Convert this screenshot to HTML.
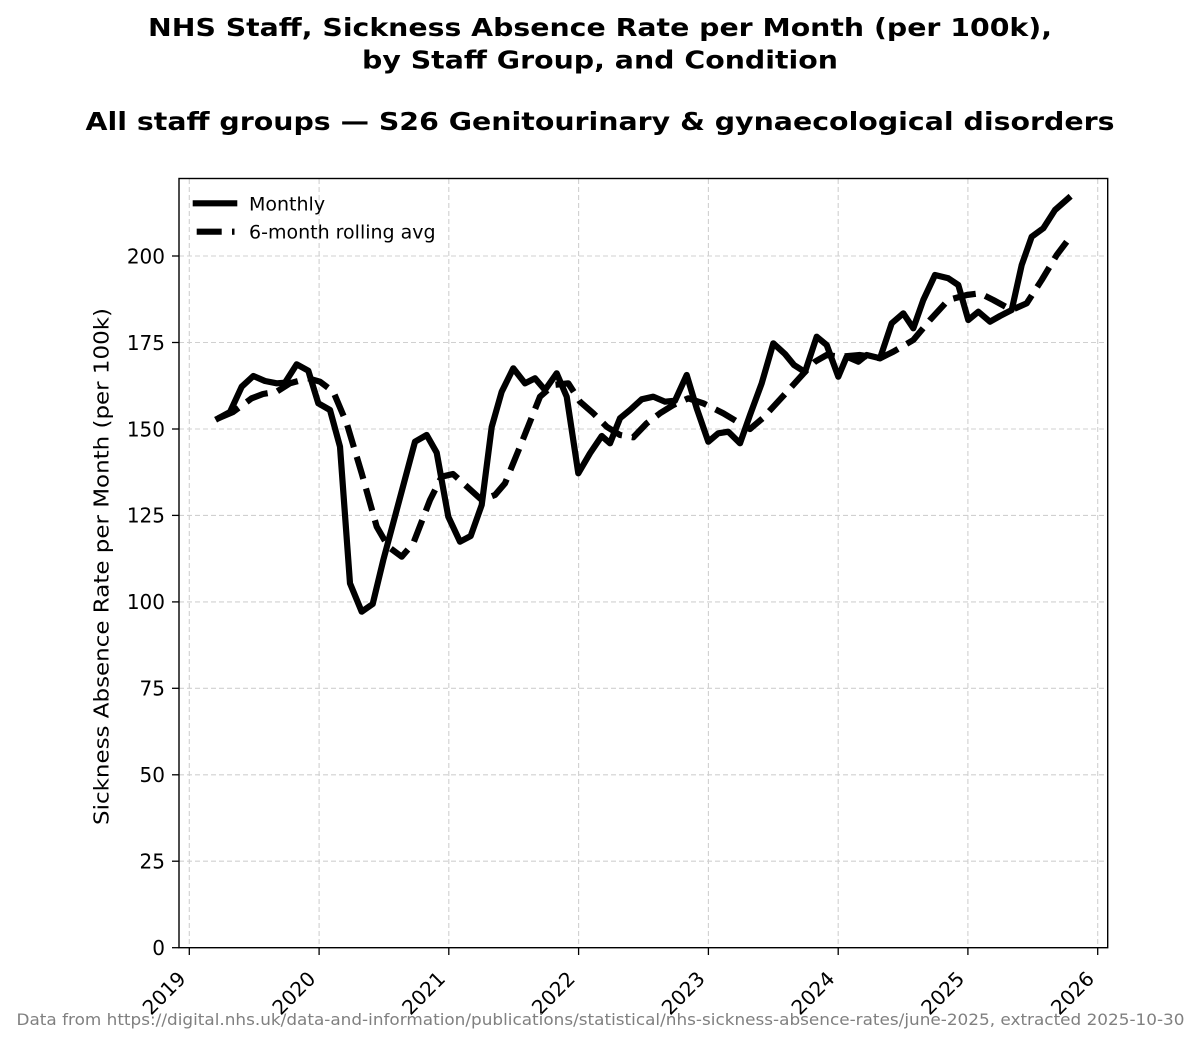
<!DOCTYPE html>
<html>
<head>
<meta charset="utf-8">
<style>
  html, body { margin: 0; padding: 0; background: #ffffff; }
  svg { display: block; }
  text { font-family: "DejaVu Sans", "Liberation Sans", sans-serif; }
</style>
</head>
<body>
<svg width="1200" height="1043" viewBox="0 0 1200 1043" xmlns="http://www.w3.org/2000/svg">
  <rect x="0" y="0" width="1200" height="1043" fill="#ffffff"/>

  <!-- Titles -->
  <text x="600" y="36" text-anchor="middle" font-size="25" font-weight="bold" fill="#000" textLength="904" lengthAdjust="spacingAndGlyphs">NHS Staff, Sickness Absence Rate per Month (per 100k),</text>
  <text x="600" y="68.5" text-anchor="middle" font-size="25" font-weight="bold" fill="#000" textLength="476" lengthAdjust="spacingAndGlyphs">by Staff Group, and Condition</text>
  <text x="600" y="130" text-anchor="middle" font-size="25" font-weight="bold" fill="#000" textLength="1029" lengthAdjust="spacingAndGlyphs">All staff groups — S26 Genitourinary &amp; gynaecological disorders</text>

  <!-- Grid -->
  <g stroke="#d0d0d0" stroke-width="1.1" stroke-dasharray="5,3" fill="none">
    <line x1="189.3" y1="179" x2="189.3" y2="947.7"/>
    <line x1="319.1" y1="179" x2="319.1" y2="947.7"/>
    <line x1="448.8" y1="179" x2="448.8" y2="947.7"/>
    <line x1="578.6" y1="179" x2="578.6" y2="947.7"/>
    <line x1="708.4" y1="179" x2="708.4" y2="947.7"/>
    <line x1="838.2" y1="179" x2="838.2" y2="947.7"/>
    <line x1="967.9" y1="179" x2="967.9" y2="947.7"/>
    <line x1="1097.7" y1="179" x2="1097.7" y2="947.7"/>
    <line x1="179" y1="861.2" x2="1107.7" y2="861.2"/>
    <line x1="179" y1="774.8" x2="1107.7" y2="774.8"/>
    <line x1="179" y1="688.3" x2="1107.7" y2="688.3"/>
    <line x1="179" y1="601.9" x2="1107.7" y2="601.9"/>
    <line x1="179" y1="515.4" x2="1107.7" y2="515.4"/>
    <line x1="179" y1="429.0" x2="1107.7" y2="429.0"/>
    <line x1="179" y1="342.5" x2="1107.7" y2="342.5"/>
    <line x1="179" y1="256.0" x2="1107.7" y2="256.0"/>
  </g>

  <!-- Monthly line -->
  <polyline fill="none" stroke="#000" stroke-width="6.2" stroke-linejoin="round" stroke-linecap="square"
    points="218.3,418.3 230,412 241.7,386.7 253.3,376 265,381 276.7,383.3 285,382.7 296.7,364.3 308.3,370.7 318.3,403.3 330,410 340,446.7 350,583.3 361.7,611.7 372.7,604 383.3,560 415,441.7 426.7,435 436.7,452.7 448.3,516.7 460,541.7 470.7,536 481.7,505 491.7,427 501.7,391.7 513.3,368.3 525,383.3 535,378.3 545,390 556.7,373.3 566.7,396.7 578.3,473.3 590,453.3 601.7,436 610,443.3 620,418.3 630,410 641.7,399.3 653.3,396.7 665,401.7 675,400.7 686.7,375 696.7,408.3 708.3,441.7 718.3,433.3 728.3,431.7 740,443.3 750,415 761.7,383.3 773.3,343.3 785,354 794,365 805,372 816.7,336.7 826.7,345 838.3,376.7 846.7,356.7 858.3,361.7 866.7,355 880,358.3 891.7,323.3 903.3,313.3 913.3,328.3 923.3,300 935,275 948.3,278.3 958.3,285 968.3,320 978.3,311.7 990,321.7 1000,316 1011.7,310 1021.7,265 1031.7,236.7 1043.3,228.3 1055,210 1068.3,198.3"/>

  <!-- Rolling avg line -->
  <polyline fill="none" stroke="#000" stroke-width="6.2" stroke-linejoin="round" stroke-dasharray="23,10"
    points="218.3,418.3 233,412 251.7,398.3 263,394 276.7,391.7 290,383.3 308.3,378.3 320,381.7 333.3,391.7 346.7,423.3 361.7,473.3 376.7,526.7 388.3,546.7 401.7,556.7 413.3,543.3 430,500 441.7,476.7 453,474 463.3,483.3 481.7,500 495,495 505,483.3 520,446.7 540,396.7 553.3,385 568.3,383.3 580,401.7 593.3,413.3 606.7,426.7 620,435 633.3,437.3 646.7,423.3 660,413.3 673.3,405 688.3,398.3 703.3,403.3 723.3,413.3 740,423.3 750,429 763,418 785,394 806.7,370 815,361.7 826.7,355 840,356.7 860,355 880,358.3 893.3,351.7 913.3,340 930,320 948.3,300 966.7,295 980,293.3 993.3,300 1011.7,310 1026.7,303.3 1041.7,280 1056.7,255 1066.7,241.7"/>

  <!-- Axes spines -->
  <rect x="179" y="178.5" width="928.7" height="769.2" fill="none" stroke="#000" stroke-width="1.4"/>

  <!-- Y ticks -->
  <g stroke="#000" stroke-width="1.3">
    <line x1="172" y1="947.7" x2="179" y2="947.7"/>
    <line x1="172" y1="861.2" x2="179" y2="861.2"/>
    <line x1="172" y1="774.8" x2="179" y2="774.8"/>
    <line x1="172" y1="688.3" x2="179" y2="688.3"/>
    <line x1="172" y1="601.9" x2="179" y2="601.9"/>
    <line x1="172" y1="515.4" x2="179" y2="515.4"/>
    <line x1="172" y1="429.0" x2="179" y2="429.0"/>
    <line x1="172" y1="342.5" x2="179" y2="342.5"/>
    <line x1="172" y1="256.0" x2="179" y2="256.0"/>
  </g>
  <g font-size="20" fill="#000" text-anchor="end">
    <text x="165" y="955">0</text>
    <text x="165" y="868.5">25</text>
    <text x="165" y="782.1">50</text>
    <text x="165" y="695.6">75</text>
    <text x="165" y="609.2">100</text>
    <text x="165" y="522.7">125</text>
    <text x="165" y="436.3">150</text>
    <text x="165" y="349.8">175</text>
    <text x="165" y="263.3">200</text>
  </g>

  <!-- X ticks -->
  <g stroke="#000" stroke-width="1.3">
    <line x1="189.3" y1="947.7" x2="189.3" y2="955"/>
    <line x1="319.1" y1="947.7" x2="319.1" y2="955"/>
    <line x1="448.8" y1="947.7" x2="448.8" y2="955"/>
    <line x1="578.6" y1="947.7" x2="578.6" y2="955"/>
    <line x1="708.4" y1="947.7" x2="708.4" y2="955"/>
    <line x1="838.2" y1="947.7" x2="838.2" y2="955"/>
    <line x1="967.9" y1="947.7" x2="967.9" y2="955"/>
    <line x1="1097.7" y1="947.7" x2="1097.7" y2="955"/>
  </g>
  <g font-size="20" fill="#000" text-anchor="end">
    <text transform="translate(187,980) rotate(-45)">2019</text>
    <text transform="translate(316.8,980) rotate(-45)">2020</text>
    <text transform="translate(446.5,980) rotate(-45)">2021</text>
    <text transform="translate(576.3,980) rotate(-45)">2022</text>
    <text transform="translate(706.1,980) rotate(-45)">2023</text>
    <text transform="translate(835.9,980) rotate(-45)">2024</text>
    <text transform="translate(965.6,980) rotate(-45)">2025</text>
    <text transform="translate(1095.4,980) rotate(-45)">2026</text>
  </g>

  <!-- Y axis label -->
  <text transform="translate(108.5,566.5) rotate(-90)" text-anchor="middle" font-size="20" fill="#000" textLength="517" lengthAdjust="spacingAndGlyphs">Sickness Absence Rate per Month (per 100k)</text>

  <!-- Legend -->
  <line x1="192.7" y1="203.3" x2="237.3" y2="203.3" stroke="#000" stroke-width="6.2"/>
  <text x="249" y="210.7" font-size="19" fill="#000">Monthly</text>
  <line x1="196.7" y1="231.7" x2="221.7" y2="231.7" stroke="#000" stroke-width="6.2"/>
  <line x1="232" y1="231.7" x2="234.5" y2="231.7" stroke="#000" stroke-width="6.2"/>
  <text x="249" y="238.3" font-size="19" fill="#000">6-month rolling avg</text>

  <!-- Footer -->
  <text x="600.5" y="1025" text-anchor="middle" font-size="16" fill="#808080" textLength="1168" lengthAdjust="spacingAndGlyphs">Data from https://digital.nhs.uk/data-and-information/publications/statistical/nhs-sickness-absence-rates/june-2025, extracted 2025-10-30</text>
</svg>
</body>
</html>
